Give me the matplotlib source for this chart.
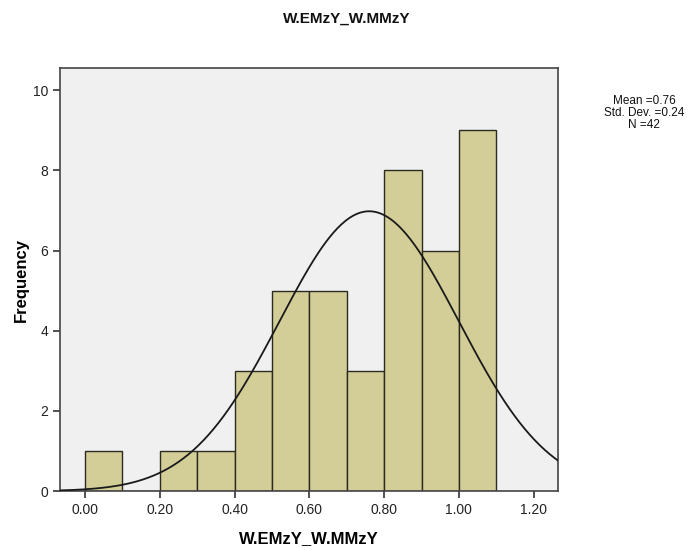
import numpy as np
import matplotlib
matplotlib.use("Agg")
import matplotlib.pyplot as plt

# Histogram bins (width 0.10) and frequencies
bin_edges = [0.0, 0.1, 0.2, 0.3, 0.4, 0.5, 0.6, 0.7, 0.8, 0.9, 1.0, 1.1]
frequencies = [1, 0, 1, 1, 3, 5, 5, 3, 8, 6, 9]

mean_val = 0.76
std_val = 0.24
n_val = 42

x_ticks = [0.0, 0.2, 0.4, 0.6, 0.8, 1.0, 1.2]
x_tick_labels = ["0.00", "0.20", "0.40", "0.60", "0.80", "1.00", "1.20"]
y_ticks = [0, 2, 4, 6, 8, 10]

plt.rcParams["font.family"] = ["Liberation Sans", "DejaVu Sans"]

fig = plt.figure(figsize=(6.94, 5.5), dpi=100)
ax = fig.add_axes([0.0865, 0.107, 0.7175, 0.769])
ax.set_facecolor("#F0F0F0")

widths = np.diff(bin_edges)
ax.bar(bin_edges[:-1], frequencies, width=widths, align="edge",
       color="#D3CE98", edgecolor="#2A2A1E", linewidth=1.0, zorder=2)

# Fitted normal curve scaled to counts
bw = widths[0]
xs = np.linspace(-0.07, 1.27, 400)
ys = n_val * bw / (std_val * np.sqrt(2 * np.pi)) * np.exp(-0.5 * ((xs - mean_val) / std_val) ** 2)
ax.plot(xs, ys, color="#1A1A1A", linewidth=1.3, zorder=3)

ax.set_xlim(-0.067, 1.265)
ax.set_ylim(0, 10.55)
ax.set_xticks(x_ticks)
ax.set_xticklabels(x_tick_labels)
ax.set_yticks(y_ticks)
ax.tick_params(axis="both", direction="out", length=5, width=1.2,
               labelsize=10, colors="#333333", labelcolor="#222222")
ax.tick_params(top=False, right=False)
for sp in ax.spines.values():
    sp.set_color("#444444")
    sp.set_linewidth(1.2)

ax.set_xlabel("W.EMzY_W.MMzY", fontsize=12, fontweight="bold", labelpad=10)
ax.set_ylabel("Frequency", fontsize=12, fontweight="bold", labelpad=3)
fig.text(0.5, 0.966, "W.EMzY_W.MMzY", ha="center", va="center",
         fontsize=11, fontweight="bold", color="#111111")

fig.text(0.928, 0.795, "Mean =0.76\nStd. Dev. =0.24\nN =42",
         ha="center", va="center", fontsize=8.5, linespacing=1.0, color="#111111")

fig.savefig("out.png", dpi=100)
